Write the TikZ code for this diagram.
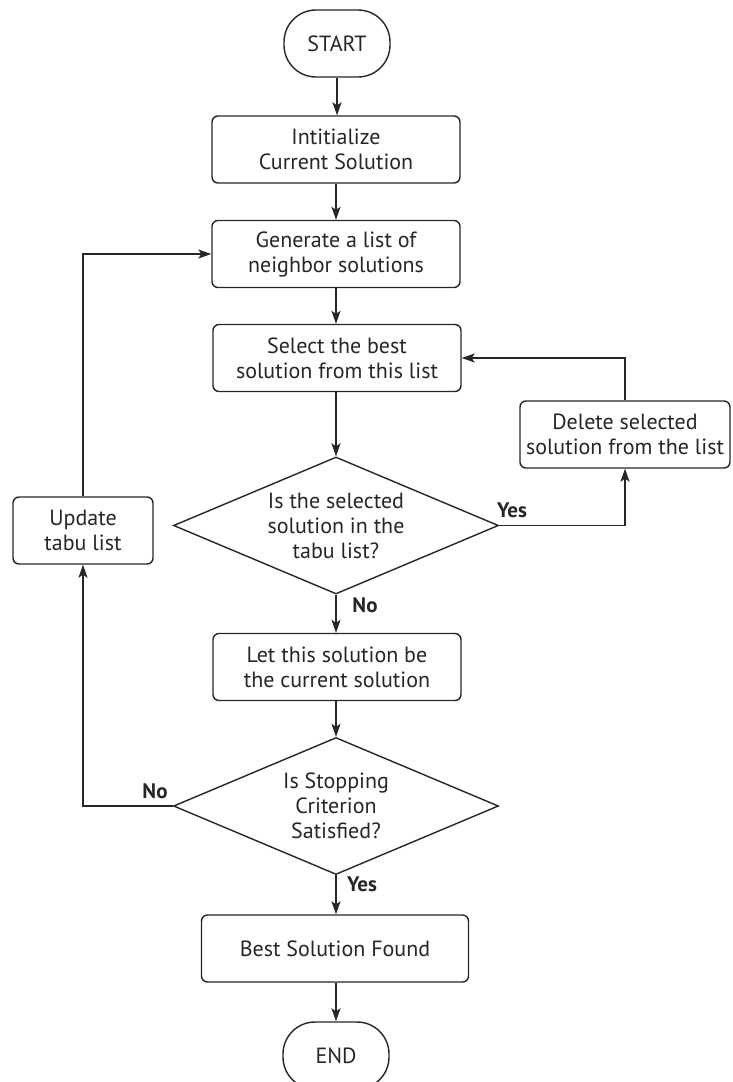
\documentclass[tikz,border=0pt]{standalone}
\usepackage{fontspec}
\setmainfont{PT Sans}
\usetikzlibrary{shapes.geometric,arrows.meta}
\begin{document}
\begin{tikzpicture}[x=1pt,y=-1pt,
  font=\fontsize{22}{25}\selectfont,
  line width=1.4pt,
  every node/.style={text=black!85},
  box/.style={draw=black!85,rounded corners=6pt,align=center,inner sep=0pt,
    minimum width=248pt,minimum height=67pt},
  term/.style={draw=black!85,rounded corners=32pt,align=center,inner sep=0pt,
    minimum width=106pt,minimum height=67pt},
  decision/.style={draw=black!85,diamond,align=center,inner sep=0pt,aspect=2.37,
    minimum width=325pt,minimum height=137pt},
  lbl/.style={font=\fontsize{21}{22}\selectfont\bfseries},
  flow/.style={draw=black!85,-{Stealth[length=13pt,width=9pt,inset=3pt]}}]
\useasboundingbox (0,0) rectangle (732,1082);

% main column
\node[term] (start) at (337,43.5) {START};
\node[box] (init) at (336,149.5) {Intitialize\\Current Solution};
\node[box] (gen) at (336,254) {Generate a list of\\neighbor solutions};
\node[box] (sel) at (337,358) {Select the best\\solution from this list};
\node[decision] (dec1) at (336,525.5) {Is the selected\\solution in the\\tabu list?};
\node[box] (let) at (337,667) {Let this solution be\\the current solution};
\node[decision] (dec2) at (336,806) {Is Stopping\\Criterion\\Satisfied?};
\node[box,minimum width=267pt] (best) at (335,948.5) {Best Solution Found};
\node[term] (end) at (336,1055.5) {END};

% side boxes
\node[box,minimum width=210pt] (del) at (625,434.5) {Delete selected\\solution from the list};
\node[box,minimum width=140pt] (upd) at (83,530.5) {Update\\tabu list};

% connectors
\draw[flow] (start.south) -- (start.south |- init.north);
\draw[flow] (init) -- (gen);
\draw[flow] (gen) -- (gen |- sel.north);
\draw[flow] (sel.south -| dec1.north) -- (dec1.north);
\draw[flow] (dec1.south) -- (dec1.south |- let.north);
\draw[flow] (let.south -| dec2.north) -- (dec2.north);
\draw[flow] (dec2.south) -- (dec2.south |- best.north);
\draw[flow] (best.south -| end.north) -- (end.north);

\draw[flow] (dec1.east) -| (del.south);
\draw[flow] (del.north) |- (sel.east);
\draw[flow] (dec2.west) -| (upd.south);
\draw[flow] (upd.north) |- (gen.west);

% branch labels
\node[lbl] (yes1) at (512,510) {Yes};
\node[lbl] (no1) at (365,605) {No};
\node[lbl] (no2) at (155,791) {No};
\node[lbl] (yes2) at (362,884) {Yes};
\end{tikzpicture}
\end{document}
